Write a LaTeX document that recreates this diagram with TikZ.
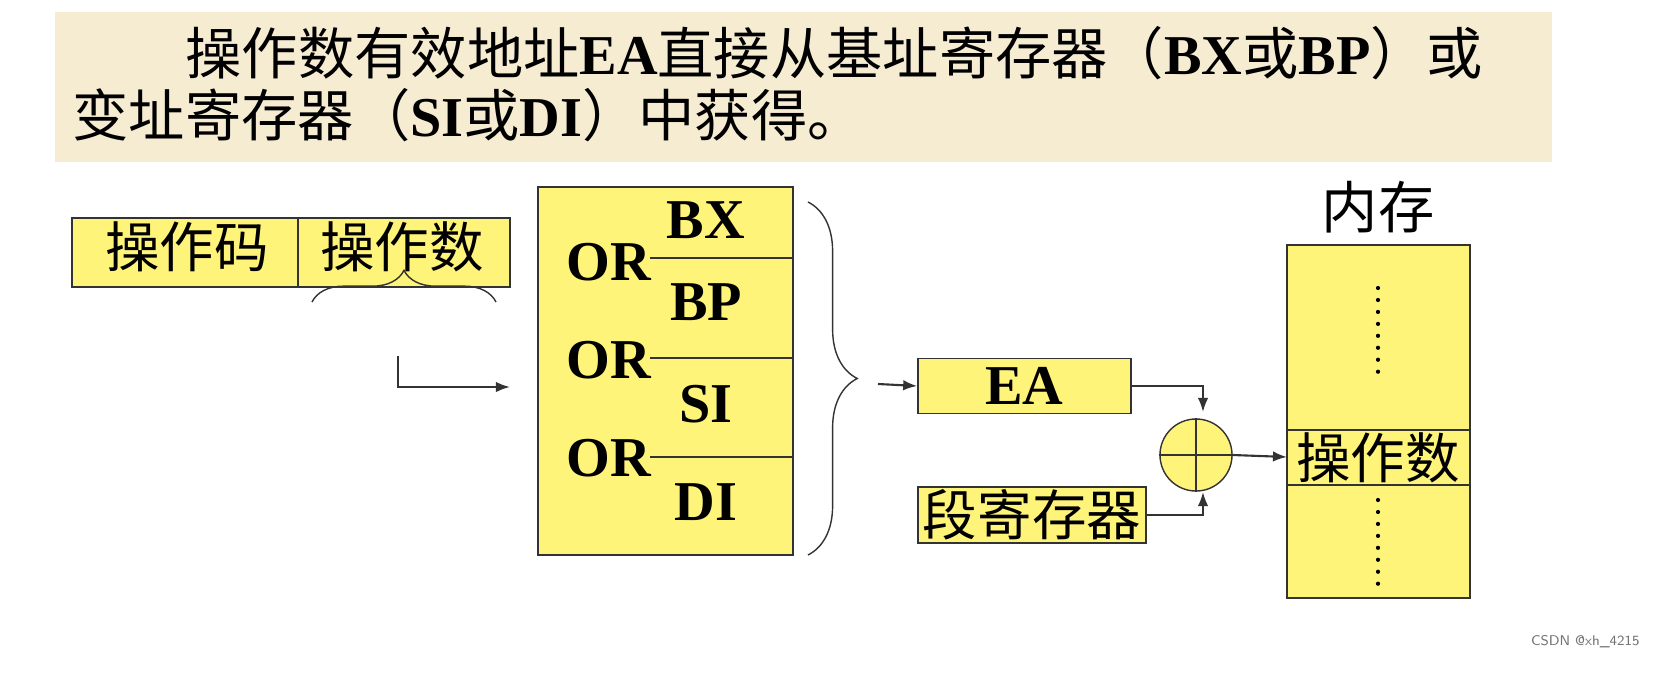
\documentclass[tikz,border=0pt]{standalone}
\usepackage{fontspec}
\setmainfont{Liberation Serif}
\newfontfamily\cjk{Noto Sans CJK SC}
\usetikzlibrary{arrows.meta,decorations.pathreplacing,positioning}
\definecolor{boxyellow}{RGB}{255,244,122}
\definecolor{bandbeige}{RGB}{246,236,210}
\tikzset{
  cell/.style={draw=black!80,fill=boxyellow,inner sep=0pt},
  link/.style={-{Latex[length=4pt,width=3pt]},black!80,semithick},
  dotcol/.style={line width=1.2pt,line cap=round,dash pattern=on 0pt off 3.4pt},
  regname/.style={font=\fontsize{16}{18}\selectfont\bfseries},
  cjktext/.style={font=\fontsize{15.5}{18}\selectfont\cjk}
}
\begin{document}
\begin{tikzpicture}[x=0.01cm,y=-0.01cm]
\useasboundingbox (0,0) rectangle (1657,694);
\fill[white] (0,0) rectangle (1657,694);
% title band
\fill[bandbeige] (55,12) rectangle (1552,162);
\node[anchor=base west,font=\fontsize{16}{18}\selectfont,inner sep=0pt] (title1) at (185,74)
  {{\cjk 操作数有效地址}\textbf{EA}{\cjk 直接从基址寄存器（}\textbf{BX}{\cjk 或}\textbf{BP}{\cjk ）或}};
\node[anchor=base west,font=\fontsize{16}{18}\selectfont,inner sep=0pt] (title2) at (72,136)
  {{\cjk 变址寄存器（}\textbf{SI}{\cjk 或}\textbf{DI}{\cjk ）中获得。}};
% instruction
\draw[cell] (72,218) rectangle (298,287);
\draw[cell] (298,218) rectangle (510,287);
\node[cjktext] (opcode) at (187,247) {操作码};
\node[cjktext] (operand) at (402,247) {操作数};
\draw[decorate,decoration={brace,mirror,amplitude=9pt},black!80] (496,302) -- (312,302);
\coordinate (bracetip) at (398,356);
\coordinate (regin) at (510,387);
\draw[link] (bracetip) |- (regin);
% registers
\draw[cell] (538,187) rectangle (793,555);
\foreach \y in {258,358,457}
  \draw[black!80] (650,\y) -- (793,\y);
\foreach \y in {262,360,458}
  \node[regname,anchor=east,inner sep=0pt] at (652,\y) {OR};
\node[regname] (bx) at (706,220) {BX};
\node[regname] (bp) at (706,302) {BP};
\node[regname] (si) at (706,404) {SI};
\node[regname] (di) at (706,502) {DI};
\draw[decorate,decoration={brace,amplitude=14pt},black!80] (808,202) -- (808,555);
% EA and segment
\node[cell,minimum width=2.13cm,minimum height=0.55cm,regname] (ea) at (1024.5,386) {EA};
\node[cell,minimum width=2.28cm,minimum height=0.56cm,cjktext] (seg) at (1032,515) {段寄存器};
\coordinate (brout) at (878,384);
\draw[link] (brout) -- (ea.west);
\node[circle,draw=black!80,fill=boxyellow,minimum size=0.72cm] (adder) at (1196,455) {};
\draw[black!80] (adder.north) -- (adder.south) (adder.west) -- (adder.east);
\coordinate (atop) at (1203,412);
\coordinate (abot) at (1203,492);
\draw[link] (ea.east) -| (atop);
\draw[link] (seg.east) -| (abot);
% memory
\node[font=\fontsize{16}{18}\selectfont\cjk] (memlabel) at (1378,207) {内存};
\draw[cell] (1287,245) rectangle (1470,598);
\draw[black!80] (1287,430) -- (1470,430) (1287,485) -- (1470,485);
\node[cjktext] (memop) at (1378,458) {操作数};
\coordinate (memin) at (1287,457);
\draw[link] (adder.east) -- (memin);
\draw[dotcol] (1378,288) -- (1378,378);
\draw[dotcol] (1378,500) -- (1378,588);
\node[anchor=east,font=\fontsize{4}{5}\selectfont\sffamily,text=black!55] (mark) at (1652,642) {CSDN @xh\_4215};
\end{tikzpicture}
\end{document}
